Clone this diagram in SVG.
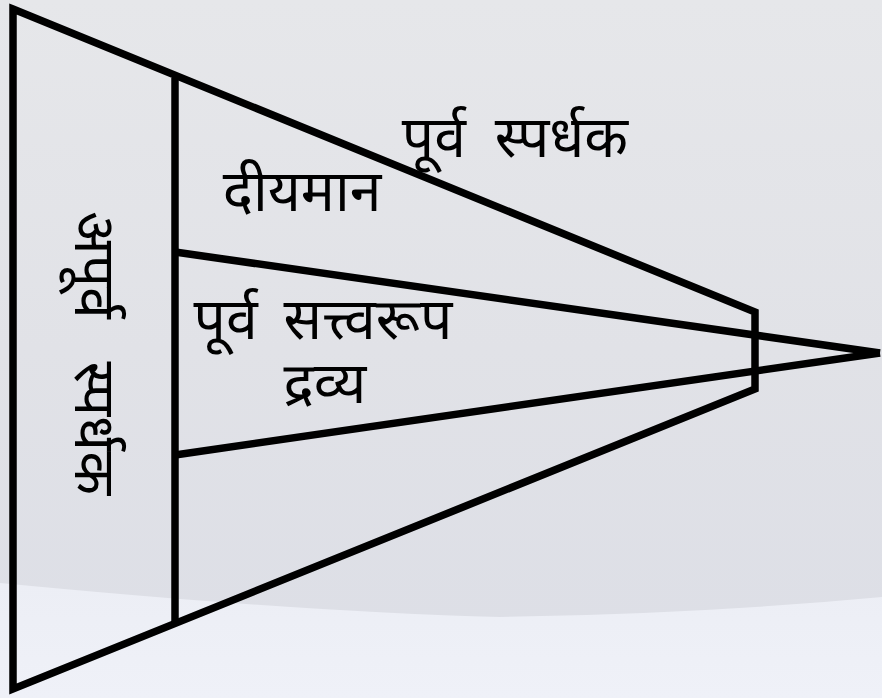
<svg xmlns="http://www.w3.org/2000/svg" width="882" height="698" viewBox="0 0 882 698">
<defs>
<linearGradient id="bg" x1="0" y1="0" x2="0" y2="1">
<stop offset="0" stop-color="#e6e7ea"/>
<stop offset="0.5" stop-color="#e1e2e7"/>
<stop offset="1" stop-color="#dcdee6"/>
</linearGradient>
<linearGradient id="band" x1="0" y1="0" x2="0" y2="1">
<stop offset="0" stop-color="#eceef5"/>
<stop offset="1" stop-color="#eff1f8"/>
</linearGradient>
</defs>
<style>
.ln{fill:none;stroke:#000;stroke-width:7.5;stroke-linejoin:miter}
.t{font-family:"Noto Sans Devanagari","Noto Sans","Lohit Devanagari",sans-serif;font-size:57px;fill:#000}
</style>
<rect width="882" height="698" fill="url(#bg)"/>
<path d="M0,583 Q300,612 500,617 Q700,614 882,597 L882,698 L0,698 Z" fill="url(#band)"/>
<g id="connectors">
<polygon class="ln" points="13,9 755,312 755,389 13,689"/>
<line class="ln" x1="175" y1="78" x2="175" y2="624"/>
<line class="ln" x1="175" y1="252" x2="880" y2="353"/>
<line class="ln" x1="175" y1="455" x2="880" y2="353"/>
</g>
<g id="n_purva_spardhak"><text class="t" x="515" y="157" text-anchor="middle" word-spacing="14">पूर्व स्पर्धक</text></g>
<g id="n_diyaman"><text class="t" x="302" y="211" text-anchor="middle">दीयमान</text></g>
<g id="n_purva_sattva"><text class="t" text-anchor="middle"><tspan x="323" y="339" word-spacing="11">पूर्व सत्त्वरूप</tspan><tspan x="325" y="403">द्रव्य</tspan></text></g>
<g id="n_apurva"><text class="t" transform="translate(100,353) rotate(90)" x="0" y="25" text-anchor="middle" word-spacing="28">अपूर्व स्पर्धक</text></g>
</svg>
